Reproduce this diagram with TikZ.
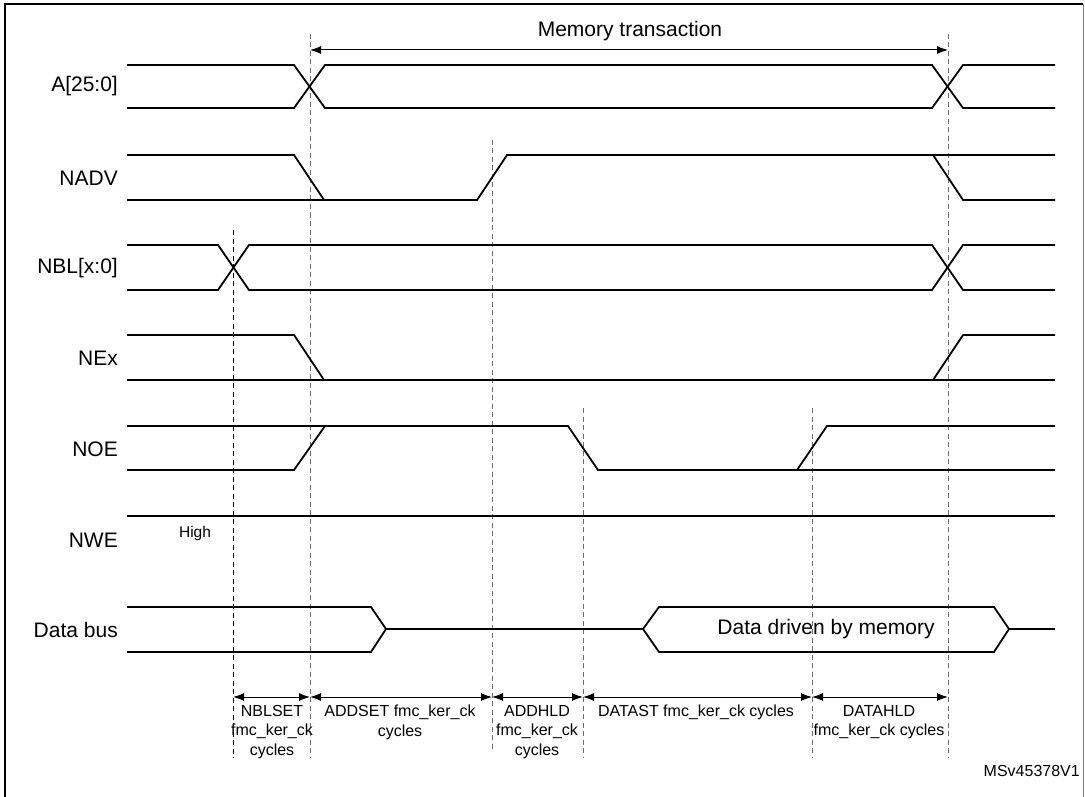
\documentclass[tikz,border=0pt]{standalone}
\usepackage{fontspec}
\setmainfont{Liberation Sans}
\usetikzlibrary{arrows.meta}
\begin{document}
\begin{tikzpicture}[x=1pt,y=-1pt,
  sig/.style={line width=1.8pt,line join=miter},
  guide/.style={gray!85!black,line width=1pt,dash pattern=on 5pt off 3.5pt},
  guideb/.style={black,line width=0.9pt,dash pattern=on 5pt off 3.5pt},
  dim/.style={line width=1pt,{Latex[length=11pt,width=8pt]}-{Latex[length=11pt,width=8pt]}},
  lbl/.style={font=\fontsize{21}{25}\selectfont,anchor=east,inner sep=0pt},
  small/.style={font=\fontsize{16}{19.5}\selectfont,align=center,anchor=north,inner sep=0pt},
  frame/.style={line width=1.8pt}]
\useasboundingbox (0,0) rectangle (1085,797);
\draw[frame] (5,797) -- (5,4) -- (1083,4);
\draw[line width=0.8pt,gray] (1083,4) -- (1083,797);

% guide coordinates
\coordinate (g1t) at (233,230); \coordinate (g1b) at (233,758);
\coordinate (g2t) at (310,34);  \coordinate (g2b) at (310,758);
\coordinate (g3t) at (492,140); \coordinate (g3b) at (492,750);
\coordinate (g4t) at (583,408); \coordinate (g4b) at (583,758);
\coordinate (g5t) at (812,408); \coordinate (g5b) at (812,758);
\coordinate (g6t) at (948,34);  \coordinate (g6b) at (948,758);
\draw[guideb] (g1t) -- (g1b);
\draw[guide] (g2t) -- (g2b);
\draw[guide] (g3t) -- (g3b);
\draw[guide] (g4t) -- (g4b);
\draw[guide] (g5t) -- (g5b);
\draw[guide] (g6t) -- (g6b);

% Memory transaction
\coordinate (mt1) at (310,50); \coordinate (mt2) at (948,50);
\draw[dim] (mt1) -- (mt2);
\node[font=\fontsize{21}{25}\selectfont,inner sep=0pt] (mtl) at (630,31) {Memory transaction};

% signal labels
\node[lbl] (lA) at (118,86) {A[25:0]};
\node[lbl] (lNADV) at (118,178) {NADV};
\node[lbl] (lNBL) at (118,268) {NBL[x:0]};
\node[lbl] (lNEx) at (118,358) {NEx};
\node[lbl] (lNOE) at (118,449) {NOE};
\node[lbl] (lNWE) at (118,540) {NWE};
\node[lbl] (lDB) at (118,630) {Data bus};
\node[font=\fontsize{15.5}{18}\selectfont,inner sep=0pt] (high) at (195,533) {High};

% A[25:0]
\draw[sig] (127,65) -- (294,65) -- (325,108) -- (932,108) -- (963,65) -- (1055,65);
\draw[sig] (127,108) -- (294,108) -- (325,65) -- (932,65) -- (963,108) -- (1055,108);
% NADV
\draw[sig] (127,155) -- (294,155) -- (324,200);
\draw[sig] (127,200) -- (477,200) -- (507,155) -- (1055,155);
\draw[sig] (933,155) -- (963,200) -- (1055,200);
% NBL
\draw[sig] (127,245) -- (218,245) -- (249,290) -- (932,290) -- (963,245) -- (1055,245);
\draw[sig] (127,290) -- (218,290) -- (249,245) -- (932,245) -- (963,290) -- (1055,290);
% NEx
\draw[sig] (127,335) -- (294,335) -- (324,380);
\draw[sig] (127,380) -- (1055,380);
\draw[sig] (933,380) -- (963,335) -- (1055,335);
% NOE
\draw[sig] (127,426) -- (568,426) -- (598,470) -- (1055,470);
\draw[sig] (127,470) -- (294,470) -- (325,426);
\draw[sig] (797,470) -- (827,426) -- (1055,426);
% NWE
\draw[sig] (127,516) -- (1055,516);
% Data bus
\draw[sig] (127,607) -- (371,607) -- (386,629) -- (371,652) -- (127,652);
\draw[sig] (386,629) -- (643,629);
\draw[sig] (643,629) -- (659,607) -- (994,607) -- (1009,629) -- (994,652) -- (659,652) -- cycle;
\draw[sig] (1009,629) -- (1055,629);
\node[font=\fontsize{21}{25}\selectfont,inner sep=0pt] (ddm) at (826,629) {Data driven by memory};

% dimension arrows
\coordinate (d1) at (233,697); \coordinate (d2) at (310,697); \coordinate (d3) at (492,697);
\coordinate (d4) at (583,697); \coordinate (d5) at (812,697); \coordinate (d6) at (948,697);
\draw[dim] (d1) -- (d2);
\draw[dim] (d2) -- (d3);
\draw[dim] (d3) -- (d4);
\draw[dim] (d4) -- (d5);
\draw[dim] (d5) -- (d6);

\node[small] (t1) at (272,705) {NBLSET\\fmc\_ker\_ck\\cycles};
\node[small] (t2) at (400,705) {ADDSET fmc\_ker\_ck\\cycles};
\node[small] (t3) at (537,705) {ADDHLD\\fmc\_ker\_ck\\cycles};
\node[small] (t4) at (696,705) {DATAST fmc\_ker\_ck cycles};
\node[small] (t5) at (879,705) {DATAHLD\\fmc\_ker\_ck cycles};
\node[font=\fontsize{16}{19}\selectfont,anchor=east,inner sep=0pt] (ms) at (1080,771) {MSv45378V1};
\end{tikzpicture}
\end{document}
